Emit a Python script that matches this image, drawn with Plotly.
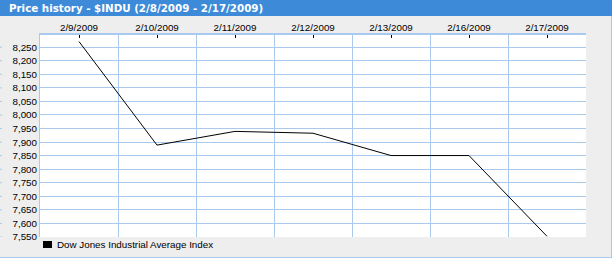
import plotly.graph_objects as go

dates = ["2/9/2009", "2/10/2009", "2/11/2009", "2/12/2009", "2/13/2009", "2/16/2009", "2/17/2009"]
close = [8270.87, 7888.88, 7939.53, 7932.76, 7850.41, 7850.41, 7552.60]
series_name = "Dow Jones Industrial Average Index"
title_text = "Price history - $INDU (2/8/2009 - 2/17/2009)"
y_ticks = list(range(7550, 8251, 50))

W, H = 612, 258
L, R, T, B = 40, 26, 35, 21
PW, PH = W - L - R, H - T - B

def px(x):
    return (x - L) / PW

def py(y):
    return 1 - (y - T) / PH

GRID = "#A9C9EF"
FONT = "Liberation Sans"

xs = list(range(len(dates)))

fig = go.Figure()
fig.add_trace(go.Scatter(x=xs, y=close, mode="lines", line=dict(color="black", width=1),
                         name=series_name, showlegend=False, hoverinfo="skip"))

shapes = [
    dict(type="rect", xref="paper", yref="paper", x0=px(0), x1=px(W), y0=py(0), y1=py(16),
         fillcolor="#3D8BD8", line=dict(width=0), layer="above"),
    dict(type="line", xref="paper", yref="paper", x0=px(611.5), x1=px(611.5), y0=py(16), y1=py(258),
         line=dict(color=GRID, width=1)),
    dict(type="line", xref="paper", yref="paper", x0=px(0), x1=px(612), y0=py(257.5), y1=py(257.5),
         line=dict(color=GRID, width=1)),
    dict(type="rect", xref="paper", yref="paper", x0=px(43), x1=px(52), y0=py(241), y1=py(248),
         fillcolor="black", line=dict(width=0)),
]
for v in y_ticks:
    shapes.append(dict(type="line", xref="paper", yref="y", x0=px(0), x1=px(2), y0=v, y1=v,
                       line=dict(color=GRID, width=1)))

fig.update_layout(
    width=W, height=H,
    margin=dict(l=L, r=R, t=T, b=B, pad=0),
    paper_bgcolor="#EEEEEE", plot_bgcolor="white",
    showlegend=False,
    font=dict(family=FONT, size=9.8, color="black"),
    shapes=shapes,
    annotations=[
        dict(text="<b>" + title_text + "</b>", xref="paper", yref="paper", x=px(7), y=py(8),
             xanchor="left", yanchor="middle", showarrow=False,
             font=dict(family="DejaVu Sans", size=10.3, color="white")),
        dict(text=series_name, xref="paper", yref="paper", x=px(55), y=py(244.5),
             xanchor="left", yanchor="middle", showarrow=False,
             font=dict(family=FONT, size=9.8, color="black")),
    ],
)
fig.update_xaxes(
    range=[-0.5, len(dates) - 0.5], side="top",
    tickmode="array", tickvals=xs, ticktext=dates,
    ticks="inside", ticklen=3, tickcolor="black", tickwidth=1,
    ticklabelstandoff=-2,
    showgrid=False, zeroline=False,
    showline=True, linecolor=GRID, linewidth=2,
    minor=dict(tickmode="array", tickvals=[i + 0.5 for i in xs[:-1]], showgrid=True,
               gridcolor=GRID, gridwidth=1, ticks=""),
    fixedrange=True,
)
fig.update_yaxes(
    range=[7550, 8295],
    tickmode="array", tickvals=y_ticks, ticktext=[f"{v:,}" for v in y_ticks],
    ticks="", showgrid=True, gridcolor=GRID, gridwidth=1, zeroline=False,
    showline=True, linecolor=GRID, linewidth=1,
    fixedrange=True,
)

fig.write_html("out.html")
